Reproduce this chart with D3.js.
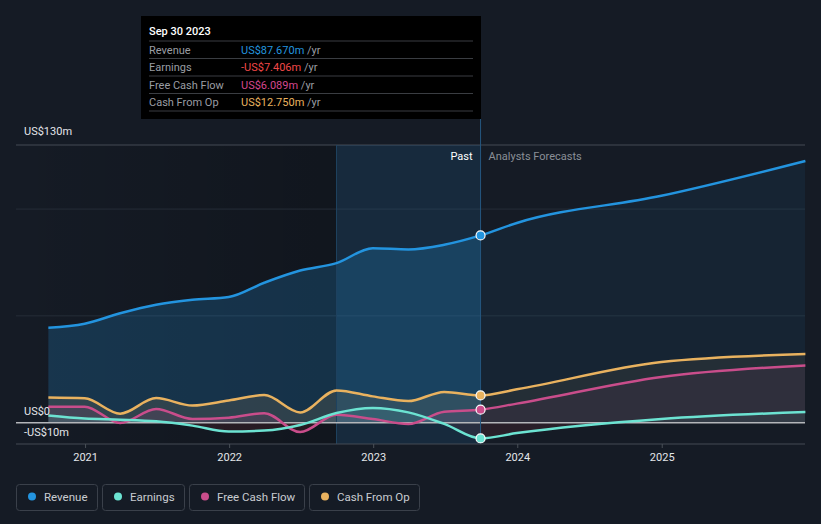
<!DOCTYPE html>
<html>
<head>
<meta charset="utf-8">
<script src="https://cdn.jsdelivr.net/npm/d3@7"></script>
<style>
  html, body { margin: 0; padding: 0; background: #151b25; }
  svg { display: block; font-family: Roboto, "Open Sans", sans-serif; }
</style>
</head>
<body>
<svg id="chart" width="821" height="524"></svg>
<script>
// ---- data ----
const pastDates = ["2020-09-30","2020-12-31","2021-03-31","2021-06-30","2021-09-30","2021-12-31",
  "2022-03-31","2022-06-30","2022-09-30","2022-12-31","2023-03-31","2023-06-30","2023-09-30"];
const forecastDates = ["2023-12-31","2024-12-31","2025-12-31"];

const revenuePast = [44.4, 46.3, 51.2, 55.2, 57.5, 58.8, 65.5, 71.2, 74.7, 81.7, 81.1, 83.3, 87.67];
const revenueFc = [93.5, 106.2, 122.5];
const earningsPast = [3.3, 1.9, 1.4, 0.6, -1.4, -4.1, -3.7, -1.1, 4.5, 6.9, 4.8, -0.6, -7.406];
const earningsFc = [-4.9, 1.7, 5.0];
const fcfPast = [7.5, 7.5, -0.2, 6.4, 1.7, 2.3, 4.4, -4.4, 3.7, 1.7, -0.6, 5.1, 6.089];
const fcfFc = [8.9, 21.4, 26.8];
const cfoPast = [11.8, 11.4, 4.2, 11.5, 8.0, 10.4, 12.9, 4.8, 15.1, 12.3, 10.1, 14.4, 12.75];
const cfoFc = [15.6, 28.4, 32.1];

const seriesNames = ["Revenue", "Earnings", "Free Cash Flow", "Cash From Op"];
const seriesColors = ["#2394df", "#6ce3d2", "#c94d8b", "#e9b25f"];
const tooltipValues = ["US$87.670m", "-US$7.406m", "US$6.089m", "US$12.750m"];
const tooltipColors = ["#2394df", "#f04848", "#d5478f", "#e9b25f"];
const yTickValues = [130, 0, -10];
const yTickLabels = ["US$130m", "US$0", "-US$10m"];
const gridValues = [100, 50];
const xTickYears = [2021, 2022, 2023, 2024, 2025];

(function () {
// ---- setup ----
const parse = d3.utcParse("%Y-%m-%d");
const svg = d3.select("#chart");
const W = 821, H = 524;
const pLeft = 16, pRight = 805, pTop = 145, pBottom = 444;

const x = d3.scaleUtc().domain([parse("2020-07-10"), parse("2025-12-30")]).range([pLeft, pRight]);
const y = d3.scaleLinear().domain([-10, 130]).range([pBottom, pTop]);

const pastEnd = parse("2023-09-30");
const bandStart = parse("2022-09-30");
const xPast = x(pastEnd), xBand = x(bandStart);

svg.append("rect").attr("width", W).attr("height", H).attr("fill", "#151b25");

const defs = svg.append("defs");
defs.append("clipPath").attr("id", "clipPast").append("rect")
  .attr("x", pLeft).attr("y", pTop).attr("width", xPast - pLeft).attr("height", pBottom - pTop);
defs.append("clipPath").attr("id", "clipFc").append("rect")
  .attr("x", xPast).attr("y", pTop).attr("width", pRight - xPast).attr("height", pBottom - pTop);
defs.append("clipPath").attr("id", "clipPos").append("rect")
  .attr("x", pLeft).attr("y", pTop).attr("width", pRight - pLeft).attr("height", y(0) - pTop);
defs.append("clipPath").attr("id", "clipNeg").append("rect")
  .attr("x", pLeft).attr("y", y(0)).attr("width", pRight - pLeft).attr("height", pBottom - y(0));

const grad = defs.append("linearGradient").attr("id", "pastShade").attr("x1", 0).attr("x2", 1).attr("y1", 0).attr("y2", 0);
grad.append("stop").attr("offset", "0%").attr("stop-color", "#000").attr("stop-opacity", 0.0);
grad.append("stop").attr("offset", "100%").attr("stop-color", "#000").attr("stop-opacity", 0.2);

// darker past region
svg.append("rect").attr("x", pLeft).attr("y", pTop).attr("width", xBand - pLeft).attr("height", pBottom - pTop)
  .attr("fill", "url(#pastShade)");

// gridlines
svg.selectAll(".grid").data(gridValues).enter().append("line")
  .attr("x1", pLeft).attr("x2", pRight).attr("y1", d => y(d)).attr("y2", d => y(d))
  .attr("stroke", "#262d37").attr("stroke-width", 1);
svg.append("line").attr("x1", pLeft).attr("x2", pRight).attr("y1", y(130)).attr("y2", y(130))
  .attr("stroke", "#454b54").attr("stroke-width", 1);

// series
const allDates = pastDates.concat(forecastDates).map(parse);
const series = [
  revenuePast.concat(revenueFc),
  earningsPast.concat(earningsFc),
  fcfPast.concat(fcfFc),
  cfoPast.concat(cfoFc)
];

const line = d3.line().x(d => x(d[0])).y(d => y(d[1])).curve(d3.curveMonotoneX);
const area = d3.area().x(d => x(d[0])).y0(y(0)).y1(d => y(d[1])).curve(d3.curveMonotoneX);

const drawOrder = [0, 3, 2, 1];
drawOrder.forEach(i => {
  const pts = allDates.map((d, k) => [d, series[i][k]]);
  const op = i === 0 ? [0.22, 0.08] : [0.12, 0.07];
  const gPos = svg.append("g").attr("clip-path", "url(#clipPos)");
  gPos.append("g").attr("clip-path", "url(#clipPast)").append("path")
    .attr("d", area(pts)).attr("fill", seriesColors[i]).attr("fill-opacity", op[0]);
  gPos.append("g").attr("clip-path", "url(#clipFc)").append("path")
    .attr("d", area(pts)).attr("fill", seriesColors[i]).attr("fill-opacity", op[1]);
  const gNeg = svg.append("g").attr("clip-path", "url(#clipNeg)");
  gNeg.append("path").attr("d", area(pts)).attr("fill", "#e04050").attr("fill-opacity", 0.1);
});

// highlight band (last year)
svg.append("rect").attr("x", xBand).attr("y", pTop).attr("width", xPast - xBand).attr("height", pBottom - pTop)
  .attr("fill", "#2394df").attr("fill-opacity", 0.13);
svg.append("line").attr("x1", xBand).attr("x2", xBand).attr("y1", pTop).attr("y2", pBottom)
  .attr("stroke", "#1f4260").attr("stroke-width", 1);

// zero line
svg.append("line").attr("x1", pLeft).attr("x2", pRight).attr("y1", y(0)).attr("y2", y(0))
  .attr("stroke", "#b4b6ba").attr("stroke-width", 1.5);

// lines
drawOrder.forEach(i => {
  const pts = allDates.map((d, k) => [d, series[i][k]]);
  svg.append("path").attr("d", line(pts)).attr("fill", "none")
    .attr("stroke", seriesColors[i]).attr("stroke-width", 2.5);
});

// tooltip vertical line
svg.append("line").attr("x1", xPast).attr("x2", xPast).attr("y1", 119).attr("y2", pBottom)
  .attr("stroke", "#24577f").attr("stroke-width", 1);

// markers
drawOrder.forEach(i => {
  svg.append("circle").attr("cx", xPast).attr("cy", y(series[i][pastDates.length - 1]))
    .attr("r", 4.5).attr("fill", seriesColors[i]).attr("stroke", "#ffffff").attr("stroke-width", 1.2);
});

// x axis
svg.append("line").attr("x1", pLeft).attr("x2", pRight).attr("y1", pBottom).attr("y2", pBottom)
  .attr("stroke", "#454b54").attr("stroke-width", 1);
const xAxis = d3.axisBottom(x)
  .tickValues(xTickYears.map(yr => new Date(Date.UTC(yr, 0, 1))))
  .tickFormat(d3.utcFormat("%Y")).tickSize(4).tickPadding(5);
const gx = svg.append("g").attr("transform", `translate(0,${pBottom})`).call(xAxis);
gx.select(".domain").remove();
gx.selectAll(".tick line").attr("stroke", "#4a5058");
gx.selectAll(".tick text").attr("fill", "#e4e6ea").attr("font-size", 11).attr("font-family", "Roboto, sans-serif");

// y labels
svg.selectAll(".ylab").data(yTickValues).enter().append("text")
  .attr("x", 24)
  .attr("y", (d, i) => i === 0 ? y(d) - 10 : y(d) - 8)
  .attr("fill", "#e4e6ea").attr("font-size", 11)
  .text((d, i) => yTickLabels[i]);

// Past / forecast labels
svg.append("text").attr("x", xPast - 8).attr("y", 160).attr("text-anchor", "end")
  .attr("fill", "#ffffff").attr("font-size", 11).text("Past");
svg.append("text").attr("x", xPast + 8).attr("y", 160)
  .attr("fill", "#8a8f97").attr("font-size", 11).text("Analysts Forecasts");

// tooltip
const tt = svg.append("g");
tt.append("rect").attr("x", 141).attr("y", 16).attr("width", 340).attr("height", 103).attr("fill", "#000000");
tt.append("text").attr("x", 149).attr("y", 35).attr("fill", "#ffffff").attr("font-size", 11)
  .attr("font-weight", 500).text("Sep 30 2023");
const rowY = [41, 58.5, 76, 93.5, 111];
rowY.forEach(yy => tt.append("line").attr("x1", 149).attr("x2", 473).attr("y1", yy).attr("y2", yy)
  .attr("stroke", "#3a3d42").attr("stroke-width", 1));
seriesNames.forEach((n, i) => {
  const ty = rowY[i] + 12.5;
  tt.append("text").attr("x", 149).attr("y", ty).attr("fill", "#9a9da3").attr("font-size", 11).text(n);
  const t = tt.append("text").attr("x", 241).attr("y", ty).attr("font-size", 11);
  t.append("tspan").attr("fill", tooltipColors[i]).text(tooltipValues[i]);
  t.append("tspan").attr("fill", "#9a9da3").text(" /yr");
});

// legend
const legendX = [16, 102, 189, 309];
const legendW = [81, 82, 115, 110];
seriesNames.forEach((n, i) => {
  const g = svg.append("g").attr("transform", `translate(${legendX[i]},484)`);
  g.append("rect").attr("x", 0.5).attr("y", 0.5).attr("width", legendW[i]).attr("height", 26).attr("rx", 3)
    .attr("fill", "none").attr("stroke", "#3a404a").attr("stroke-width", 1);
  g.append("circle").attr("cx", 16).attr("cy", 12.5).attr("r", 4).attr("fill", seriesColors[i]);
  g.append("text").attr("x", 28).attr("y", 16.5).attr("fill", "#c9ccd1").attr("font-size", 11.5).text(n);
});
})();
</script>
</body>
</html>
